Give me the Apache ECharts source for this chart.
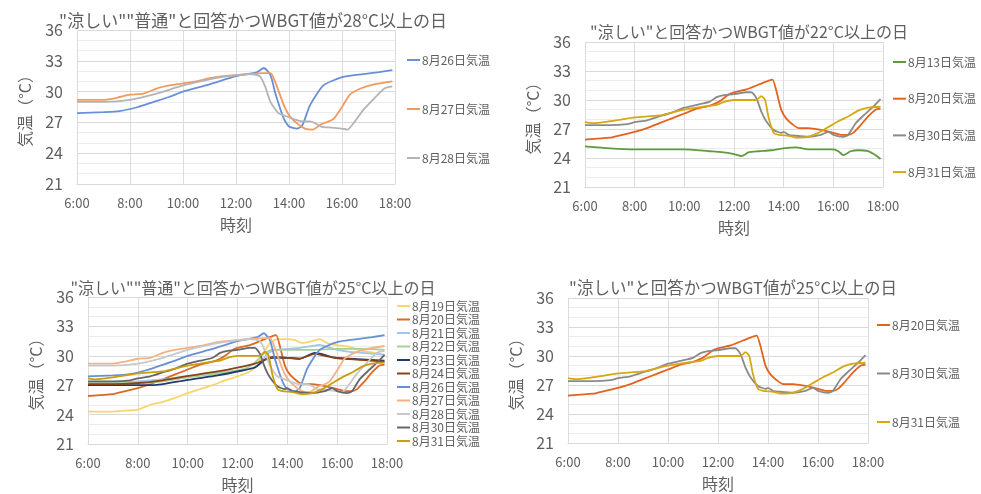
<!DOCTYPE html>
<html><head><meta charset="utf-8">
<script src="https://cdn.jsdelivr.net/npm/echarts@6/dist/echarts.min.js"></script>
<style>html,body{margin:0;padding:0;background:#fff}#c{width:981px;height:494px}</style>
</head><body><div id="c"></div>
<script>
// ---- data: [hour, temperature °C] ----
const d13 = [[6,25.2],[7,25.0],[8,24.9],[9,24.9],[10,24.9],[11,24.7],[11.5,24.6],[12,24.4],[12.3,24.2],[12.6,24.6],[13,24.7],[13.5,24.8],[14,25.0],[14.5,25.1],[15,24.9],[15.5,24.9],[16,24.9],[16.2,24.7],[16.4,24.3],[16.7,24.7],[17,24.8],[17.4,24.7],[17.75,24.2],[17.9,23.9]];
const d19 = [[6,24.3],[7,24.3],[7.5,24.4],[8,24.5],[8.5,25.0],[9,25.3],[9.5,25.7],[10,26.2],[10.5,26.6],[11,27.0],[11.5,27.5],[12,27.9],[12.5,28.4],[12.8,29.1],[13,30.1],[13.3,31.3],[13.6,31.7],[14,31.7],[14.3,31.6],[14.6,31.3],[15,31.5],[15.3,31.7],[15.6,31.3],[16,31.1],[16.5,30.9],[17,30.5],[17.5,30.3],[17.9,30.1]];
const d20 = [[6,25.9],[7,26.1],[7.5,26.4],[8,26.7],[8.5,27.1],[9,27.6],[9.5,28.1],[10,28.6],[10.5,29.1],[11,29.4],[11.3,29.7],[11.5,30.0],[11.8,30.6],[12,30.8],[12.5,31.1],[13,31.6],[13.4,32.0],[13.55,32.1],[13.7,31.0],[13.9,29.0],[14.1,28.1],[14.4,27.4],[14.6,27.1],[15,27.1],[15.5,26.9],[16,26.6],[16.3,26.4],[16.6,26.4],[16.8,26.6],[17.1,27.4],[17.4,28.3],[17.7,29.0],[17.9,29.1]];
const d21 = [[6,27.3],[7,27.3],[8,27.4],[9,27.6],[10,27.9],[11,28.2],[12,28.5],[12.5,28.7],[12.9,29.2],[13.2,30.2],[13.5,30.6],[14,30.7],[14.5,30.8],[15,31.0],[15.3,31.1],[15.6,30.9],[16,30.6],[16.5,30.4],[17,30.3],[17.5,30.2],[17.9,30.1]];
const d22 = [[6,27.2],[7,27.2],[8,27.2],[9,27.4],[10,27.8],[11,28.1],[12,28.5],[12.4,28.8],[12.7,29.3],[13.1,30.3],[13.4,30.6],[14,30.6],[15,30.6],[16,30.7],[17,30.7],[17.9,30.6]];
const d23 = [[6,27.0],[7,27.0],[8,27.0],[8.6,27.0],[9.9,27.5],[11.2,28.0],[12.2,28.5],[12.7,28.8],[13.1,29.6],[13.4,29.8],[13.9,29.8],[14.5,29.7],[15.1,30.3],[15.5,30.1],[15.9,29.8],[16.5,29.7],[17.9,29.5]];
const d24 = [[6,27.1],[7,27.1],[7.9,27.2],[9,27.5],[9.9,27.9],[11.2,28.4],[12.2,28.9],[12.7,29.2],[13.1,29.6],[13.4,29.9],[13.9,29.8],[14.5,29.7],[15.1,30.2],[15.5,30.0],[15.9,29.8],[16.8,29.6],[17.9,29.4]];
const d26 = [[6,27.9],[7,28.0],[7.6,28.1],[8.3,28.5],[8.9,29.0],[9.5,29.5],[10,30.0],[11,30.7],[12,31.5],[12.8,31.9],[13.05,32.3],[13.3,31.6],[13.5,29.7],[13.8,27.4],[14,26.6],[14.3,26.4],[14.5,26.7],[14.8,28.7],[15.3,30.6],[16,31.4],[16.8,31.7],[17.4,31.9],[17.9,32.1]];
const d27 = [[6,29.2],[7,29.2],[7.5,29.4],[8,29.7],[8.5,29.8],[9,30.3],[9.5,30.6],[10,30.8],[10.5,31.0],[11,31.3],[11.5,31.5],[12,31.6],[12.5,31.7],[13,31.8],[13.3,31.8],[13.5,30.8],[13.8,28.7],[14,27.7],[14.3,26.9],[14.6,26.4],[14.9,26.3],[15.2,26.8],[15.5,27.1],[15.7,27.4],[16,28.5],[16.3,29.7],[16.7,30.3],[17.2,30.7],[17.9,31.0]];
const d28 = [[6,29.0],[7,29.0],[8,29.2],[9,29.8],[10,30.6],[11,31.2],[12,31.6],[12.5,31.7],[12.9,31.5],[13.1,30.5],[13.3,29.0],[13.6,27.9],[13.9,27.6],[14.2,27.3],[14.5,27.1],[14.8,27.1],[15,26.9],[15.2,26.6],[15.6,26.5],[16,26.4],[16.2,26.3],[16.4,26.8],[16.8,28.2],[17.2,29.3],[17.6,30.3],[17.9,30.5]];
const d30 = [[6,27.4],[7,27.4],[7.7,27.5],[8,27.7],[8.5,27.9],[9,28.3],[9.5,28.7],[10,29.2],[10.5,29.5],[11,29.8],[11.3,30.3],[11.6,30.5],[12,30.6],[12.5,30.8],[12.7,30.8],[12.9,30.2],[13.1,28.8],[13.3,27.8],[13.6,26.9],[13.9,26.6],[14,26.7],[14.2,26.4],[14.5,26.3],[15,26.2],[15.5,26.4],[15.8,26.7],[16,26.4],[16.4,26.2],[16.6,26.4],[16.9,27.6],[17.3,28.6],[17.6,29.3],[17.9,30.1]];
const d31 = [[6,27.7],[6.3,27.6],[7,27.8],[7.5,28.0],[8,28.2],[9,28.4],[9.5,28.7],[10,29.0],[10.5,29.2],[11,29.4],[11.3,29.5],[11.6,29.8],[12,30.0],[12.5,30.0],[12.9,30.0],[13.1,30.4],[13.25,30.0],[13.4,28.1],[13.6,26.6],[13.8,26.4],[14.2,26.3],[14.6,26.1],[15,26.2],[15.4,26.6],[15.8,27.2],[16.2,27.8],[16.6,28.3],[17,28.9],[17.4,29.2],[17.9,29.3]];

const xTicks = [6, 8, 10, 12, 14, 16, 18];
const yTicks = [21, 24, 27, 30, 33, 36];

const titles = [
  '"涼しい""普通"と回答かつWBGT値が28°C以上の日',
  '"涼しい"と回答かつWBGT値が22°C以上の日',
  '"涼しい""普通"と回答かつWBGT値が25°C以上の日',
  '"涼しい"と回答かつWBGT値が25°C以上の日'
];

// series per panel: [label, data, color]
const panel1 = [['8月26日気温', d26, '#6890D6'], ['8月27日気温', d27, '#F29A5C'], ['8月28日気温', d28, '#B4B4B4']];
const panel2 = [['8月13日気温', d13, '#5E9B3E'], ['8月20日気温', d20, '#E4621E'], ['8月30日気温', d30, '#8A8A8A'], ['8月31日気温', d31, '#D6A812']];
const panel3 = [['8月19日気温', d19, '#F8D66C'], ['8月20日気温', d20, '#D96A28'], ['8月21日気温', d21, '#A2C5E8'], ['8月22日気温', d22, '#A9D18E'],
  ['8月23日気温', d23, '#1F3A70'], ['8月24日気温', d24, '#8A4318'], ['8月26日気温', d26, '#6890D6'], ['8月27日気温', d27, '#F4B183'],
  ['8月28日気温', d28, '#C8C8C8'], ['8月30日気温', d30, '#666666'], ['8月31日気温', d31, '#C99E0A']];
const panel4 = [['8月20日気温', d20, '#E4621E'], ['8月30日気温', d30, '#8A8A8A'], ['8月31日気温', d31, '#D6A812']];

const panels = [panel1, panel2, panel3, panel4];
const gridsPos = [
  {left: 77, top: 30, width: 318, height: 154},
  {left: 585, top: 42, width: 298, height: 145},
  {left: 88, top: 297, width: 299, height: 147},
  {left: 568, top: 298, width: 300, height: 145}
];
const titlePos = [[253, 21], [749, 32], [253, 288], [733, 288]];
const titleSize = [17, 16, 16, 16.5];
const legendPos = [
  {left: 407, top: 53, itemGap: 35, lh: 14},
  {left: 893, top: 55, itemGap: 22.7, lh: 14},
  {left: 397, top: 299.5, itemGap: 0.5, lh: 13},
  {left: 877, top: 318, itemGap: 34.5, lh: 14}
];

const FONT = '"Noto Sans CJK JP", "Noto Sans", sans-serif';
const TXT = '#5f5f5f';

const grid = [], xAxis = [], yAxis = [], series = [], legend = [], graphic = [];
panels.forEach((p, i) => {
  grid.push(Object.assign({containLabel: false}, gridsPos[i]));
  xAxis.push({
    type: 'value', gridIndex: i, min: xTicks[0], max: xTicks[xTicks.length - 1], interval: 2,
    name: '時刻', nameLocation: 'middle', nameGap: 33,
    nameTextStyle: {fontSize: 16, color: TXT, fontFamily: FONT},
    axisLine: {show: true, lineStyle: {color: '#d9d9d9'}},
    axisTick: {show: false},
    axisLabel: {fontSize: 13, color: TXT, margin: 13, fontFamily: FONT, formatter: v => v + ':00'},
    splitLine: {show: true, lineStyle: {color: '#dcdcdc', width: 1}}
  });
  yAxis.push({
    type: 'value', gridIndex: i, min: yTicks[0], max: yTicks[yTicks.length - 1], interval: 3,
    name: '気温（°C）', nameLocation: 'middle', nameRotate: 90, nameGap: 44,
    nameTextStyle: {fontSize: 16, color: TXT, fontFamily: FONT},
    axisLine: {show: false}, axisTick: {show: false},
    axisLabel: {fontSize: 16, color: TXT, margin: 14, fontFamily: FONT},
    splitLine: {show: true, lineStyle: {color: '#d9d9d9', width: 1}},
    minorTick: {show: false, splitNumber: 3},
    minorSplitLine: {show: true, lineStyle: {color: '#ececec', width: 1}}
  });
  graphic.push({
    type: 'text', x: titlePos[i][0], y: titlePos[i][1], silent: true,
    style: {text: titles[i], fontSize: titleSize[i], fontFamily: FONT, fill: TXT,
      textAlign: 'center', textVerticalAlign: 'middle'}
  });
  const lp = legendPos[i];
  legend.push({
    orient: 'vertical', left: lp.left, top: lp.top, itemGap: lp.itemGap, padding: 0,
    icon: 'rect', itemWidth: 13, itemHeight: 2,
    textStyle: {fontSize: 12, color: TXT, lineHeight: lp.lh, fontFamily: FONT, padding: [0, 0, 0, -3]},
    selectedMode: false,
    data: p.map(s => ({name: s[0], itemStyle: {color: s[2]}, lineStyle: {color: s[2]}, icon: 'rect'}))
  });
  p.forEach(s => {
    series.push({
      name: s[0], type: 'line', xAxisIndex: i, yAxisIndex: i, data: s[1],
      symbol: 'none', smooth: 0.2, lineStyle: {width: 1.8, color: s[2]}, itemStyle: {color: s[2]},
      emphasis: {disabled: true}
    });
  });
});

const chart = echarts.init(document.getElementById('c'), null, {renderer: 'canvas'});
chart.setOption({
  animation: false, backgroundColor: '#ffffff',
  grid, xAxis, yAxis, series, legend, graphic
});
</script></body></html>
